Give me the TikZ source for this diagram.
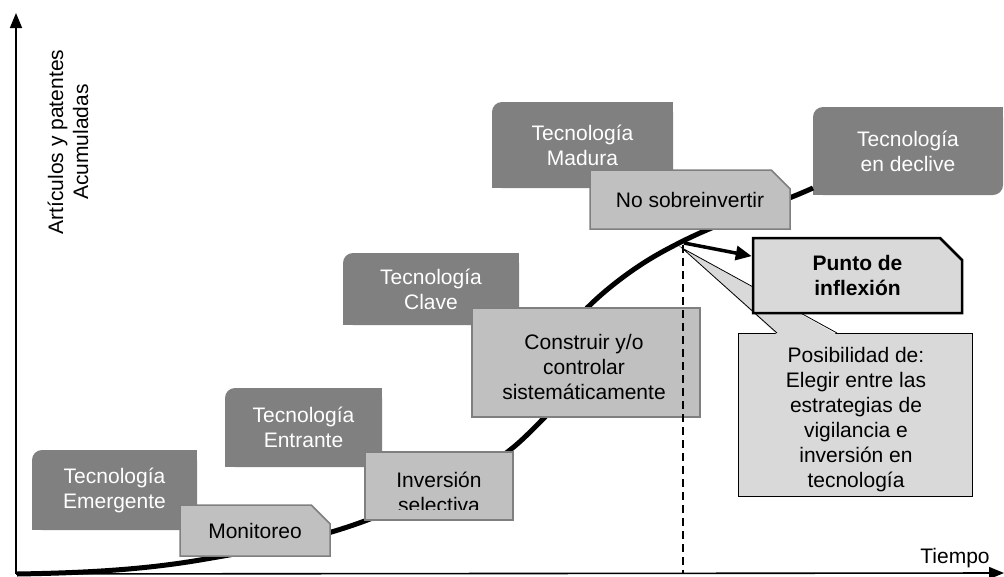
\documentclass[tikz,border=0pt]{standalone}
\usepackage{fontspec}
\setmainfont{Liberation Sans}
\usetikzlibrary{arrows.meta,shapes.misc,backgrounds,calc}
\definecolor{darkfill}{HTML}{808080}
\definecolor{lightfill}{HTML}{C0C0C0}
\definecolor{lightborder}{HTML}{7F7F7F}
\definecolor{paler}{HTML}{D9D9D9}
\begin{document}
\begin{tikzpicture}[x=1pt,y=-1pt,
  txt/.style={font=\fontsize{21}{25}\selectfont, align=center, inner sep=0pt},
  darkbox/.style={txt, rectangle, fill=darkfill, rounded corners=10pt, text=white},
  lightbox/.style={txt, chamfered rectangle, chamfered rectangle corners=north east,
     chamfered rectangle xsep=11pt, chamfered rectangle ysep=11pt,
     fill=lightfill, draw=lightborder, line width=1.5pt},
  axis/.style={line width=1.6pt, -{Triangle[length=15pt,width=12pt]}},
  scurve/.style={line width=5pt, line join=round},
  guide/.style={line width=1.4pt, dash pattern=on 8pt off 5pt},
  bigarrow/.style={line width=3.5pt, -{Triangle[length=16pt,width=14pt]}},
  calloutline/.style={draw=black, line width=0.8pt}
]
\useasboundingbox (0,0) rectangle (1004,576);

% axes
\coordinate (origin) at (16,574);
\coordinate (ytip) at (16,13);
\coordinate (xtip) at (1004,573);
\draw[axis] (origin) -- (ytip);
\draw[axis] (origin) -- (xtip);
\node[txt, rotate=90] (ylab) at (68,142) {Artículos y patentes\\Acumuladas};
\node[txt, anchor=base] (xlab) at (955,563) {Tiempo};

% S curve
\draw[scurve] (17,574)
  .. controls (78,573) and (139,570.4) .. (200,560)
  .. controls (257,550.3) and (313,540.7) .. (370,519)
  .. controls (417,501.1) and (463,487.6) .. (510,450)
  .. controls (522,440.7) and (533,429) .. (545,417)
  .. controls (556,406) and (576,319) .. (587,308)
  .. controls (602,293) and (618,280.5) .. (633,270)
  .. controls (650,258.1) and (666,249.5) .. (683,241)
  .. controls (726,219.5) and (770,207.4) .. (813,188);

% dark boxes
\node[darkbox, minimum width=165pt, minimum height=80pt] (emer) at (114.5,490) {Tecnología\\Emergente};
\node[darkbox, minimum width=157pt, minimum height=79pt] (entr) at (303.5,427.5) {Tecnología\\Entrante};
\node[darkbox, minimum width=176pt, minimum height=72pt] (clave) at (431,289) {Tecnología\\Clave};
\node[darkbox, minimum width=181pt, minimum height=86pt] (madura) at (582.5,145) {Tecnología\\Madura};
\node[darkbox, minimum width=190pt, minimum height=88pt] (declive) at (908,151) {Tecnología\\en declive};
\begin{scope}[on background layer]
  \foreach \b in {emer,entr,clave,madura,declive}{
    \fill[darkfill] (\b.south west) rectangle (\b.center);
    \fill[darkfill] (\b.center) rectangle (\b.north east);
  }
\end{scope}

% light boxes
\node[lightbox, minimum width=150pt, minimum height=51pt] (moni) at (255,530.5) {Monitoreo};
\node[lightbox, minimum width=148pt, minimum height=68pt] (inv) at (439,486) {};
\begin{scope}
  \clip (365,452) rectangle (513,509);
  \node[txt, anchor=base] (invA) at (439,487) {Inversión};
  \node[txt, anchor=base] (invB) at (439,512) {selectiva};
\end{scope}
\node[lightbox, minimum width=228pt, minimum height=109pt] (constr) at (586,362.5) {};
\node[txt] (constrtxt) at (584,367) {Construir y/o\\controlar\\sistemáticamente};
\node[lightbox, minimum width=200pt, minimum height=59pt] (nosob) at (690,199.5) {No sobreinvertir};

% dashed guide at inflection point
\coordinate (infl) at (684,243);
\coordinate (dtop) at (683,245);
\coordinate (dbot) at (683,573);
\draw[guide] (dtop) -- (dbot);

% callout
\node[rectangle, fill=paler, calloutline, minimum width=234pt, minimum height=163pt, inner sep=0pt] (posib) at (855,414.5) {};
\coordinate (capex) at (682,248);
\coordinate (cb1) at (777,333);
\coordinate (cb2) at (837,333);
\fill[paler] (capex) -- ($(cb1)+(0,1.5)$) -- ($(cb2)+(0,1.5)$) -- cycle;
\draw[calloutline] (cb1) -- (capex) -- (cb2);
\node[txt] (posibtxt) at (856,420) {Posibilidad de:\\Elegir entre las\\estrategias de\\vigilancia e\\inversión en\\tecnología};

% punto de inflexion
\node[txt, chamfered rectangle, chamfered rectangle corners=north east,
  chamfered rectangle xsep=11pt, chamfered rectangle ysep=11pt,
  fill=paler, draw=black, line width=2.5pt, font=\fontsize{21}{25}\selectfont\bfseries,
  minimum width=209pt, minimum height=75pt] (punto) at (857.5,275.5) {Punto de\\inflexión};
\draw[bigarrow] (infl) -- ($(punto.north west)!0.25!(punto.south west)$);
\end{tikzpicture}
\end{document}
